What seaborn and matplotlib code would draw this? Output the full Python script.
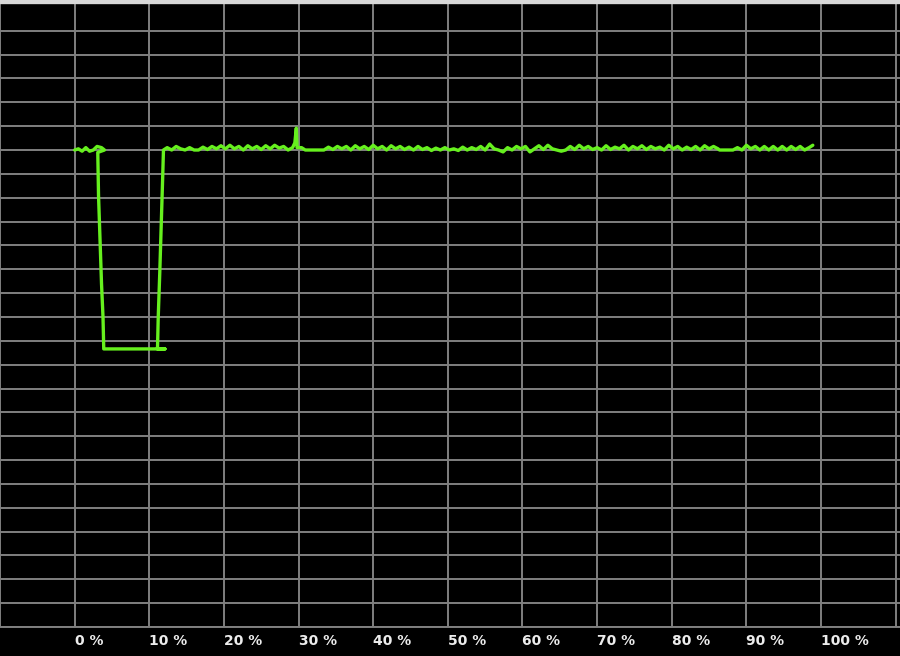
import matplotlib
matplotlib.use("Agg")
import matplotlib.pyplot as plt
import seaborn as sns
import pandas as pd

# progress (%) and level (grid units), in drawing order
start_pct = [0.0, 0.5, 1.0, 1.5, 2.0, 2.5, 3.0, 3.6, 4.0, 3.1]
start_lvl = [20.0, 20.05, 19.95, 20.1, 19.95, 20.0, 20.15, 20.1, 20.0, 19.9]

dip_pct = [3.2, 3.4, 3.6, 3.8, 3.9, 12.1, 11.1, 11.2, 11.4, 11.6, 11.8, 11.9]
dip_lvl = [18.1, 16.2, 14.4, 13.0, 11.66, 11.66, 11.66, 13.0, 14.8, 16.8, 18.9, 20.0]

early_pct = [12.4, 13.0, 13.6, 14.2, 14.8, 15.4, 16.0, 16.6, 17.2, 17.8,
             18.4, 19.0, 19.6, 20.2, 20.8, 21.4, 22.0, 22.6, 23.2, 23.8,
             24.4, 25.0, 25.6, 26.2, 26.8, 27.4, 28.0, 28.6, 29.2]
early_lvl = [20.1, 20.0, 20.15, 20.05, 20.0, 20.1, 20.0, 20.0, 20.12, 20.02,
             20.15, 20.05, 20.18, 20.05, 20.2, 20.05, 20.15, 20.0, 20.18, 20.05,
             20.15, 20.02, 20.18, 20.05, 20.2, 20.08, 20.15, 20.0, 20.1]

spike_pct = [29.5, 29.7, 29.8, 30.4, 30.9, 31.6, 33.4]
spike_lvl = [20.3, 20.92, 20.1, 20.1, 20.0, 20.0, 20.0]

mid_pct = [34.0, 34.6, 35.2, 35.8, 36.4, 37.0, 37.6, 38.2, 38.8, 39.4,
           40.0, 40.6, 41.2, 41.8, 42.4, 43.0, 43.6, 44.2, 44.8, 45.4,
           46.0, 46.6, 47.2, 47.8, 48.4, 49.0, 49.6, 50.2, 50.8, 51.4,
           52.0, 52.6, 53.2, 53.8, 54.4, 55.0, 55.6, 56.2, 56.8, 57.4,
           58.0, 58.6, 59.2, 59.8, 60.4, 61.0, 61.6, 62.2, 62.8, 63.4,
           64.0, 64.6, 65.2, 65.8, 66.4, 67.0, 67.6, 68.2, 68.8, 69.4,
           70.0, 70.6, 71.2, 71.8, 72.4, 73.0, 73.6, 74.2, 74.8, 75.4,
           76.0, 76.6, 77.2, 77.8, 78.4, 79.0, 79.6, 80.2, 80.8, 81.4,
           82.0, 82.6, 83.2, 83.8, 84.4, 85.0, 85.6, 86.2]
mid_lvl = [20.12, 20.02, 20.15, 20.05, 20.15, 20.0, 20.18, 20.05, 20.15, 20.02,
           20.2, 20.05, 20.15, 20.0, 20.18, 20.05, 20.15, 20.02, 20.12, 20.0,
           20.15, 20.02, 20.1, 19.98, 20.08, 20.0, 20.1, 20.0, 20.05, 19.98,
           20.12, 20.0, 20.1, 20.02, 20.15, 20.0, 20.25, 20.05, 20.0, 19.92,
           20.1, 20.0, 20.15, 20.05, 20.15, 19.92, 20.05, 20.18, 20.02, 20.2,
           20.05, 20.0, 19.95, 20.0, 20.15, 20.02, 20.2, 20.05, 20.15, 20.02,
           20.1, 20.0, 20.18, 20.02, 20.12, 20.05, 20.2, 20.0, 20.15, 20.05,
           20.18, 20.02, 20.15, 20.05, 20.12, 20.0, 20.2, 20.05, 20.15, 20.0,
           20.12, 20.02, 20.15, 20.0, 20.18, 20.05, 20.15, 20.05]

flat_pct = [86.4, 88.2]
flat_lvl = [20.0, 20.0]

late_pct = [88.8, 89.4, 90.0, 90.6, 91.2, 91.8, 92.4, 93.0, 93.6, 94.2,
            94.8, 95.4, 96.0, 96.6, 97.2, 97.8, 98.4, 98.9]
late_lvl = [20.1, 20.0, 20.2, 20.05, 20.15, 20.0, 20.15, 20.0, 20.15, 20.0,
            20.15, 20.0, 20.15, 20.02, 20.15, 20.0, 20.1, 20.2]

tick_pct = list(range(-10, 120, 10))
tick_text = ["" if t < 0 or t > 100 else f"{t} %" for t in tick_pct]

pct = start_pct + dip_pct + early_pct + spike_pct + mid_pct + flat_pct + late_pct
lvl = start_lvl + dip_lvl + early_lvl + spike_lvl + mid_lvl + flat_lvl + late_lvl
df = pd.DataFrame({"pct": pct, "lvl": lvl})

sns.set_theme(style="dark")
plt.rcParams['font.family'] = ['DejaVu Sans']

fig = plt.figure(figsize=(9, 6.56), dpi=100, facecolor="black")
ax = fig.add_axes([0, 29 / 656, 1, 627 / 656])
ax.set_facecolor("black")

sns.lineplot(data=df, x="pct", y="lvl", sort=False, estimator=None,
             color="#66f01e", linewidth=2.4, ax=ax)

ax.set_xlim(-9.906, 110.58)
ax.set_ylim(0, 26.29)
ax.set_xticks(tick_pct)
ax.set_xticklabels(tick_text, ha="left", color="#ececec", fontsize=10,
                   fontweight="bold")
ax.set_yticks(range(0, 26))
ax.set_yticklabels([])
ax.tick_params(axis="both", length=0)
ax.tick_params(axis="x", pad=5)
ax.grid(True, color="#808080", linewidth=1.4)
ax.set_axisbelow(True)
ax.set_xlabel("")
ax.set_ylabel("")

for side in ["left", "right"]:
    ax.spines[side].set_visible(False)
ax.spines["bottom"].set_color("#808080")
ax.spines["bottom"].set_linewidth(1.4)
ax.spines["top"].set_color("#d8d8d8")
ax.spines["top"].set_linewidth(6)

fig.savefig("out.png", dpi=100, facecolor="black")
